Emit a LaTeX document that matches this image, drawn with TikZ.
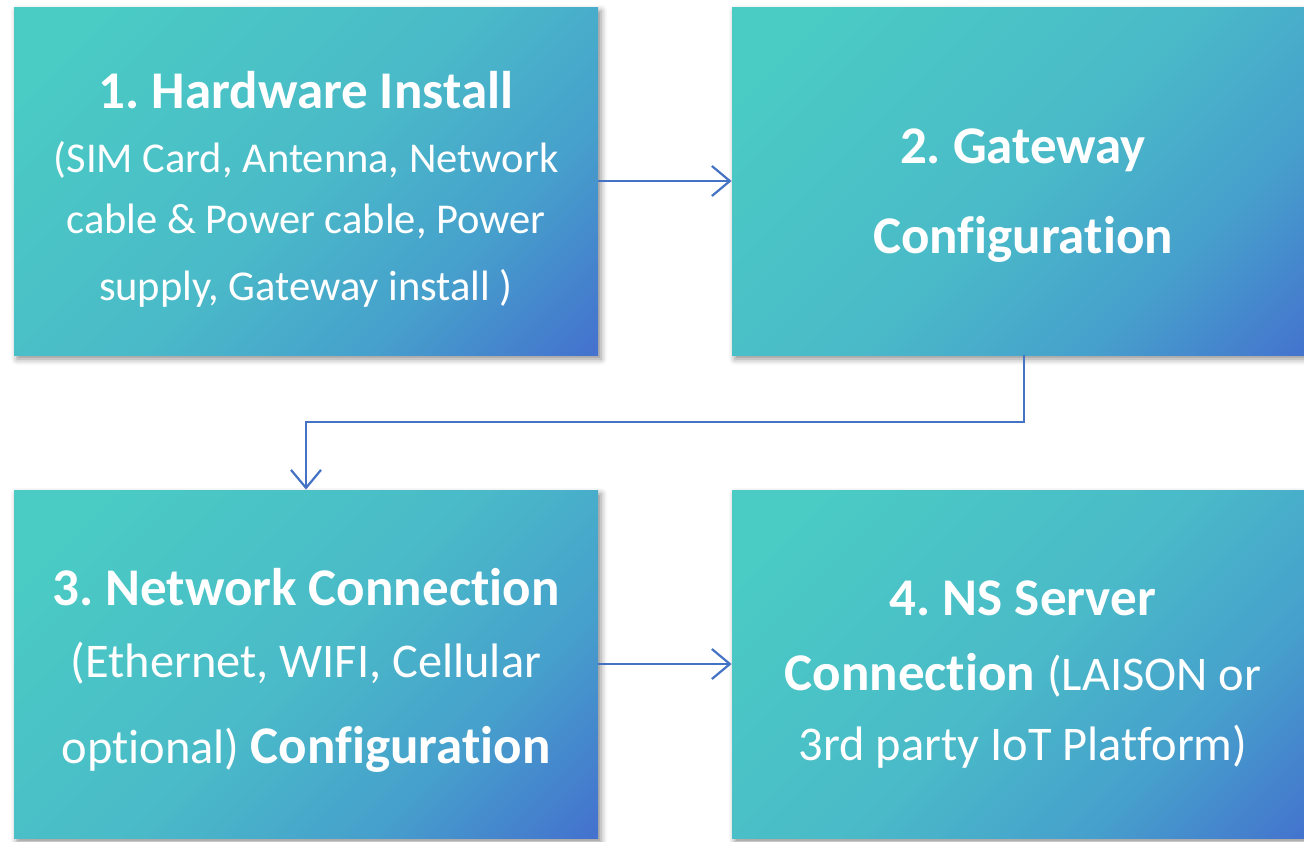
\documentclass[tikz,border=0pt]{standalone}
\usepackage{fontspec}
\setmainfont{Carlito}[Ligatures=NoCommon]
\usetikzlibrary{arrows.meta,shadows.blur}
\frenchspacing

\definecolor{gradA}{RGB}{74,204,196}
\definecolor{gradB}{RGB}{74,186,200}
\definecolor{gradC}{RGB}{70,160,204}
\definecolor{gradD}{RGB}{68,114,206}
\definecolor{linkblue}{RGB}{68,114,196}

% teal-to-blue fill of the step boxes
\pgfdeclarehorizontalshading{stepgrad}{100bp}{%
  color(0bp)=(gradA); color(20bp)=(gradA); color(50bp)=(gradB);
  color(68bp)=(gradC); color(85bp)=(gradD); color(100bp)=(gradD)}

\newcommand\titlesz{\fontsize{26.5pt}{30pt}\selectfont\bfseries}
\newcommand\bodysz{\fontsize{21.25pt}{25pt}\selectfont}
\newcommand\bodylg{\fontsize{24.2pt}{28pt}\selectfont\mdseries}

\tikzset{
  stepbox/.style={rectangle, draw=none, minimum width=292pt, minimum height=174pt,
    inner sep=0pt, shading=stepgrad, shading angle=-45,
    blur shadow={shadow xshift=1.5pt, shadow yshift=-2pt, shadow blur radius=3pt,
      shadow opacity=45}},
  txt/.style={anchor=base, inner sep=0pt, text=white},
  link/.style={draw=linkblue, line width=1.1pt,
    -{Straight Barb[length=9pt, width=15pt, line width=1.1pt]}}
}

\begin{document}
\begin{tikzpicture}[x=0.5pt, y=-0.5pt]
  \useasboundingbox (0,0) rectangle (1304,841);

  % boxes
  \node[stepbox] (b1) at (306,181) {};
  \node[stepbox] (b2) at (1024,181) {};
  \node[stepbox] (b3) at (306,664) {};
  \node[stepbox] (b4) at (1024,664) {};

  % step 1
  \node[txt] (t1a) at (306,108) {\titlesz 1. Hardware Install};
  \node[txt] (t1b) at (306,172) {\bodysz (SIM Card, Antenna, Network};
  \node[txt] (t1c) at (306,233) {\bodysz cable \& Power cable, Power};
  \node[txt] (t1d) at (306,300) {\bodysz supply, Gateway install )};

  % step 2
  \node[txt] (t2a) at (1023,163) {\titlesz 2. Gateway};
  \node[txt] (t2b) at (1023,253) {\titlesz Configuration};

  % step 3
  \node[txt] (t3a) at (306,605) {\titlesz 3. Network Connection};
  \node[txt] (t3b) at (306,677) {\bodylg (Ethernet, WIFI, Cellular};
  \node[txt] (t3c) at (306,763) {\bodylg optional) {\titlesz Configuration}};

  % step 4
  \node[txt] (t4a) at (1023,615) {\titlesz 4. NS Server};
  \node[txt] (t4b) at (1023,690) {\titlesz Connection \bodylg (LAISON or};
  \node[txt] (t4c) at (1023,760) {\bodylg 3rd party IoT Platform)};

  % connectors
  \coordinate (bend) at (1024,422);
  \draw[link] (b1) -- (b2);
  \draw[link] (b2.south) -- (bend) -| (b3.north);
  \draw[link] (b3) -- (b4);
\end{tikzpicture}
\end{document}
